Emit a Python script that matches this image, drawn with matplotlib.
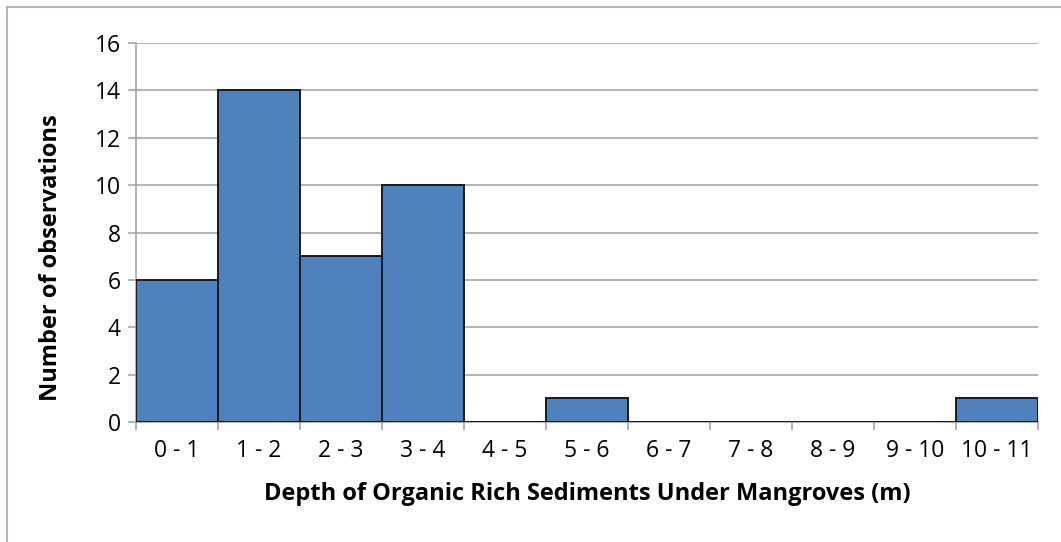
import matplotlib
matplotlib.use("Agg")
import matplotlib.pyplot as plt
from matplotlib.lines import Line2D
import numpy as np

categories = ["0 - 1", "1 - 2", "2 - 3", "3 - 4", "4 - 5", "5 - 6", "6 - 7",
              "7 - 8", "8 - 9", "9 - 10", "10 - 11"]
counts = [6, 14, 7, 10, 0, 1, 0, 0, 0, 0, 1]
yticks = [0, 2, 4, 6, 8, 10, 12, 14, 16]

plt.rcParams['font.family'] = ['Open Sans', 'DejaVu Sans']

fig = plt.figure(figsize=(10.61, 5.42), dpi=100)
ax = fig.add_axes([136/1061, 1-422/542, (1038-136)/1061, (422-43)/542])

x = np.arange(len(categories))
ax.bar(x + 0.5, counts, width=1.0, color="#4F81BD", edgecolor="#1a1a1a",
       linewidth=1.4, zorder=3)

ax.set_xlim(0, len(categories))
ax.set_ylim(0, 16)
ax.set_yticks(yticks)
ax.set_yticklabels([str(v) for v in yticks], fontsize=16.5)
ax.yaxis.grid(True, color="#a6a6a6", linewidth=1.2, zorder=0)
ax.set_axisbelow(True)

ax.set_xticks(x + 0.5)
ax.set_xticklabels(categories, fontsize=16.5)
ax.set_xticks(np.arange(len(categories) + 1), minor=True)
ax.tick_params(axis='x', which='major', length=0, pad=12)
ax.tick_params(axis='x', which='minor', length=6, color="#a6a6a6", width=1.2)
ax.tick_params(axis='y', length=6, color="#a6a6a6", width=1.2, pad=5)

for s in ["top", "right"]:
    ax.spines[s].set_visible(False)
for s in ["left", "bottom"]:
    ax.spines[s].set_color("#a6a6a6")
    ax.spines[s].set_linewidth(1.2)

ax.set_xlabel("Depth of Organic Rich Sediments Under Mangroves (m)",
              fontsize=17, fontweight="bold", labelpad=14)
ax.set_ylabel("Number of observations", fontsize=17, fontweight="bold",
              labelpad=23, y=0.433)

# outer frame lines (top and left)
fig.add_artist(Line2D([7/1061, 1.0], [1-7/542, 1-7/542], color="#b5b5b5",
                      linewidth=1.5, transform=fig.transFigure))
fig.add_artist(Line2D([7/1061, 7/1061], [0.0, 1-7/542], color="#b5b5b5",
                      linewidth=1.5, transform=fig.transFigure))

fig.savefig("out.png", dpi=100)
